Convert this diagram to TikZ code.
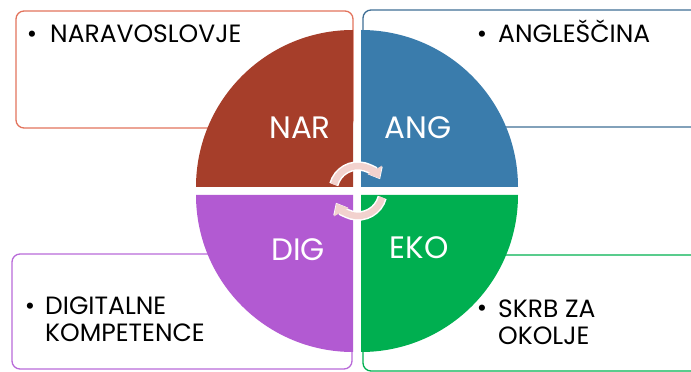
\documentclass[tikz,border=0pt]{standalone}
\usepackage{fontspec}
\setmainfont{Poppins}
\usetikzlibrary{arrows.meta}
\definecolor{narfill}{HTML}{A63E2A}
\definecolor{angfill}{HTML}{3A7CAC}
\definecolor{digfill}{HTML}{B25AD2}
\definecolor{ekofill}{HTML}{00AF50}
\definecolor{narline}{HTML}{E2735C}
\definecolor{angline}{HTML}{3F6E95}
\definecolor{digline}{HTML}{B86AD8}
\definecolor{ekoline}{HTML}{00B050}
\definecolor{cyclepink}{HTML}{F2D2CE}

\begin{document}
\begin{tikzpicture}[x=1pt,y=1pt]
	\tikzstyle{frame}=[line width=1.3pt,rounded corners=8pt]
	\tikzstyle{quad}=[white,inner sep=0pt,font=\fontsize{31}{33}\selectfont]
	\tikzstyle{item}=[anchor=base west,inner sep=0pt,align=left,font=\fontsize{25}{27.5}\selectfont]
	\tikzstyle{dot}=[anchor=base,inner sep=0pt,font=\fontsize{25}{27}\selectfont]
	\tikzstyle{cycle}=[line width=6.5pt,-{Triangle[width=16pt,length=10pt]}]

	\useasboundingbox (0,0) rectangle (691,372);
	\clip (0,0) rectangle (691,372);

	\draw[frame,narline] (16,244) rectangle (353,361);
	\draw[frame,angline] (363,245) rectangle (720,362);
	\draw[frame,digline] (12,3) rectangle (352,118);
	\draw[frame,ekoline] (363,1) rectangle (720,117);

	\fill[narfill] (353,185) -- ++(-157,0) arc[start angle=180,end angle=90,radius=157] -- cycle;
	\fill[angfill] (361,185) -- ++(0,157) arc[start angle=90,end angle=0,radius=157] -- cycle;
	\fill[digfill] (353,177) -- ++(-157,0) arc[start angle=180,end angle=270,radius=157] -- cycle;
	\fill[ekofill] (361,177) -- ++(0,-157) arc[start angle=-90,end angle=0,radius=157] -- cycle;

	\node[quad](nar) at (300,244){NAR};
	\node[quad](ang) at (418,244){ANG};
	\node[quad](dig) at (298,122){DIG};
	\node[quad](eko) at (419,124){EKO};

	\node[dot](narbul) at (32,329){\textbullet};
	\node[item](nartxt) at (50,329){NARAVOSLOVJE};
	\node[dot](angbul) at (482,329){\textbullet};
	\node[item](angtxt) at (498,329){ANGLEŠČINA};
	\node[dot](digbul) at (30,57){\textbullet};
	\node[item](digtxt) at (45,30){DIGITALNE\\KOMPETENCE};
	\node[dot](ekobul) at (482,55){\textbullet};
	\node[item](ekotxt) at (498,27){SKRB ZA\\OKOLJE};

	\coordinate (mid) at (358,181);
	\draw[cycle,white,line width=9.5pt] (mid) ++(165:25) arc[start angle=165,end angle=28,radius=25];
	\draw[cycle,cyclepink] (mid) ++(165:25) arc[start angle=165,end angle=30,radius=25];
	\draw[cycle,white,line width=9.5pt] (mid) ++(-15:25) arc[start angle=-15,end angle=-152,radius=25];
	\draw[cycle,cyclepink] (mid) ++(-15:25) arc[start angle=-15,end angle=-150,radius=25];

\end{tikzpicture}
\end{document}
